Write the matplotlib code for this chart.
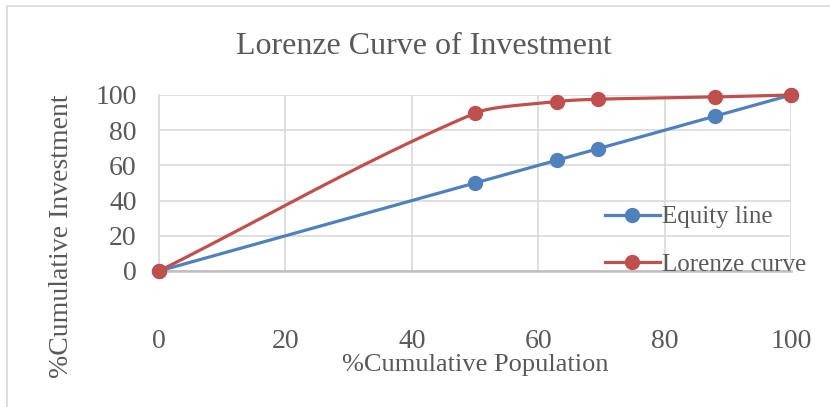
import numpy as np
import matplotlib
matplotlib.use('Agg')
import matplotlib.pyplot as plt
from matplotlib.lines import Line2D
from matplotlib.patches import Rectangle

plt.rcParams['font.family'] = ['Liberation Serif', 'DejaVu Serif']

title = 'Lorenze Curve of Investment'
population = [0, 50, 63, 69.5, 88, 100]
equity = [0, 50, 63, 69.5, 88, 100]
lorenze = [0, 89.7, 96.3, 97.6, 98.9, 100]
xticks = [0, 20, 40, 60, 80, 100]
yticks = [0, 20, 40, 60, 80, 100]

BLUE = '#4f81bd'
RED = '#c0504d'
TXT = '#595959'


def smooth(x, y, n=40):
    # Excel-like smoothed line: cubic Bezier, control arms weighted by segment length
    p = np.column_stack([x, y]).astype(float)
    npt = len(p)
    seg = np.hypot(*np.diff(p, axis=0).T)
    out = []
    for i in range(npt - 1):
        p1, p2 = p[i], p[i + 1]
        if i == 0:
            c1 = p1 + (p2 - p1) / 3
        else:
            c1 = p1 + (p2 - p[i - 1]) * seg[i] / (seg[i - 1] + seg[i]) / 3
        if i == npt - 2:
            c2 = p2 - (p2 - p1) / 3
        else:
            c2 = p2 - (p[i + 2] - p1) * seg[i] / (seg[i] + seg[i + 1]) / 3
        t = np.linspace(0, 1, n)[:, None]
        b = (1 - t) ** 3 * p1 + 3 * (1 - t) ** 2 * t * c1 + 3 * (1 - t) * t ** 2 * c2 + t ** 3 * p2
        out.append(b)
    b = np.vstack(out)
    return b[:, 0], b[:, 1]


fig = plt.figure(figsize=(8.3, 4.07), dpi=100)
fig.patches.append(Rectangle((7 / 830, -0.01), 1, 1 - 6 / 407 + 0.01, transform=fig.transFigure,
                             fill=False, edgecolor='#d9d9d9', linewidth=1.2))

ax = fig.add_axes([159 / 830, 136 / 407, 632 / 830, 176 / 407])

for ys, col in [(equity, BLUE), (lorenze, RED)]:
    sx, sy = smooth(population, ys)
    ax.plot(sx, sy, color=col, linewidth=2.3, zorder=3, solid_capstyle='round', clip_on=False)
    ax.plot(population, ys, 'o', color=col, markersize=10, zorder=4, clip_on=False)

ax.set_xlim(0, 100)
ax.set_ylim(0, 100)
ax.set_xticks(xticks)
ax.set_yticks(yticks)
ax.grid(True, color='#d9d9d9', linewidth=1.2)
ax.set_axisbelow(True)
for s in ['top', 'right']:
    ax.spines[s].set_visible(False)
ax.spines['left'].set_color('#d9d9d9')
ax.spines['left'].set_linewidth(1.2)
ax.spines['bottom'].set_color('#bfbfbf')
ax.spines['bottom'].set_linewidth(1.8)
ax.spines['bottom'].set_zorder(2.5)
ax.tick_params(axis='both', length=0, labelsize=20, labelcolor=TXT)
ax.tick_params(axis='x', pad=42)
ax.tick_params(axis='y', pad=16)

fig.text(0.511, 1 - 46 / 407, title, ha='center', va='center', fontsize=23, color=TXT)
fig.text(475 / 830, 1 - 365 / 407, '%Cumulative Population', ha='center', va='center', fontsize=19, color=TXT)
fig.text(61 / 830, 1 - 236 / 407, '%Cumulative Investment', ha='center', va='center', rotation=90,
         fontsize=20, color=TXT)

handles = [Line2D([], [], color=BLUE, marker='o', markersize=10, linewidth=2.3),
           Line2D([], [], color=RED, marker='o', markersize=10, linewidth=2.3)]
fig.legend(handles, ['Equity line', 'Lorenze curve'], loc='center left',
           bbox_to_anchor=(592 / 830, 1 - 241 / 407), frameon=False, fontsize=18,
           labelcolor=TXT, handlelength=2.2, handletextpad=0.1, labelspacing=1.0, borderpad=0)

fig.savefig('out.png', dpi=100)
